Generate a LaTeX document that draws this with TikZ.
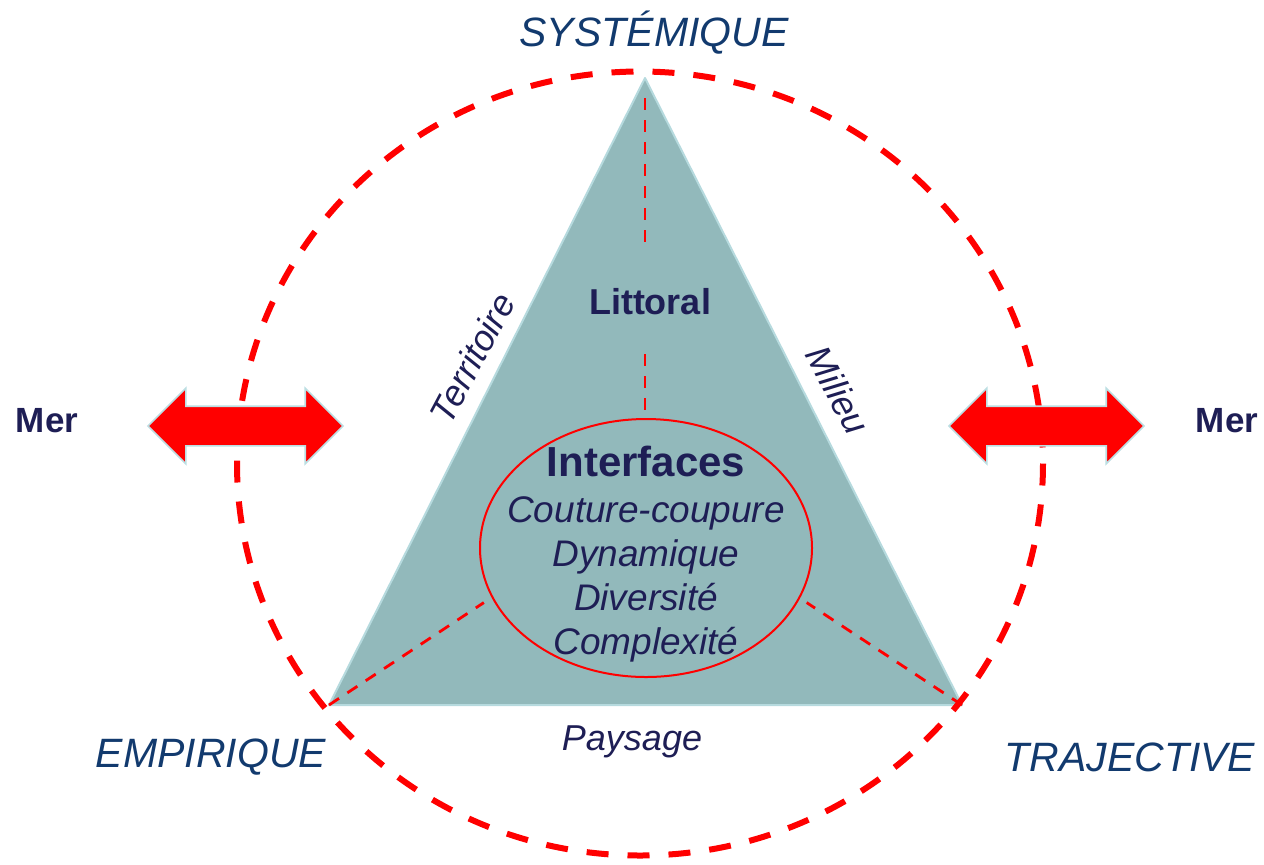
\documentclass[tikz,border=0pt]{standalone}
\usepackage{fontspec}
\setmainfont{Liberation Sans}
\usepackage{tikz}
\usetikzlibrary{positioning,calc,shapes.geometric,shapes.arrows}
\definecolor{poleblue}{RGB}{18,58,110}
\definecolor{ink}{RGB}{30,30,85}
\definecolor{tealfill}{RGB}{146,185,187}
\definecolor{tealedge}{RGB}{182,218,222}
\definecolor{arrowedge}{RGB}{188,222,226}

\begin{document}
\begin{tikzpicture}[
    x=0.5pt, y=-0.5pt,
    pole/.style={text=poleblue, font=\fontsize{20.5}{24}\selectfont\itshape},
    side/.style={text=ink, font=\fontsize{18}{21}\selectfont\itshape},
    title/.style={text=ink, font=\fontsize{18}{21}\selectfont\bfseries},
    seadir/.style={
        double arrow,
        fill=red,
        draw=arrowedge,
        line width=0.8pt,
        minimum height=97.5pt,
        double arrow head extend=9pt,
        double arrow tip angle=90,
        inner xsep=0pt,
        inner ysep=9.5pt
    },
    ring/.style={red, line width=3pt, dash pattern=on 11pt off 9.5pt},
    split/.style={red, line width=1.4pt, dash pattern=on 6pt off 5pt}
]
  \useasboundingbox (0,0) rectangle (1264,864);
  \coordinate (A) at (645,78);
  \coordinate (B) at (329,705);
  \coordinate (C) at (962,705);
  \coordinate (G) at (645,496);
  \fill[tealfill] (A) -- (B) -- (C) -- cycle;
  \draw[tealedge, line width=1pt, line join=round] (A) -- (B) -- (C) -- cycle;

  \node[ellipse, draw=red, line width=1pt, minimum width=166pt,
  minimum height=129pt, inner sep=0pt] (I) at (646,548) {};
  \node[align=center, text=ink, font=\fontsize{18.5}{22}\selectfont\itshape]
  (It) at ([yshift=-3pt]I.center) {{\upshape\bfseries\fontsize{21}{22}\selectfont Interfaces}\\[1pt]
  Couture-coupure\\ Dynamique\\ Diversité\\ Complexité};
  \node[title, minimum height=52pt] (L) at (650,302) {Littoral};

  \draw[split, shorten <=10pt] (A) -- (A |- L.north);
  \draw[split] (A |- L.south) -- (A |- I.north);
  \draw[split] (B) -- ($(B)!0.49!(G)$);
  \draw[split] (C) -- ($(C)!0.49!(G)$);

  \draw[ring] (640,463.5) ellipse [x radius=403, y radius=392];

  \node[seadir] (AL) at (245.5,426) {};
  \node[seadir] (AR) at (1046.5,426) {};
  \node[title, font=\fontsize{17.5}{21}\selectfont\bfseries] (ML) at (47,421) {Mer};
  \node[title, font=\fontsize{17.5}{21}\selectfont\bfseries] (MR) at (1227,421) {Mer};

  \node[pole] (S) at (654,33) {SYSTÉMIQUE};
  \node[pole] (E) at (211,757) {EMPIRIQUE};
  \node[pole] (T) at (1130,757) {TRAJECTIVE};

  \node[side, rotate=62] (Te) at (472,358) {Territoire};
  \node[side, rotate=-62] (Mi) at (838,390) {Milieu};
  \node[side] (P) at (632,742) {Paysage};
\end{tikzpicture}
\end{document}
